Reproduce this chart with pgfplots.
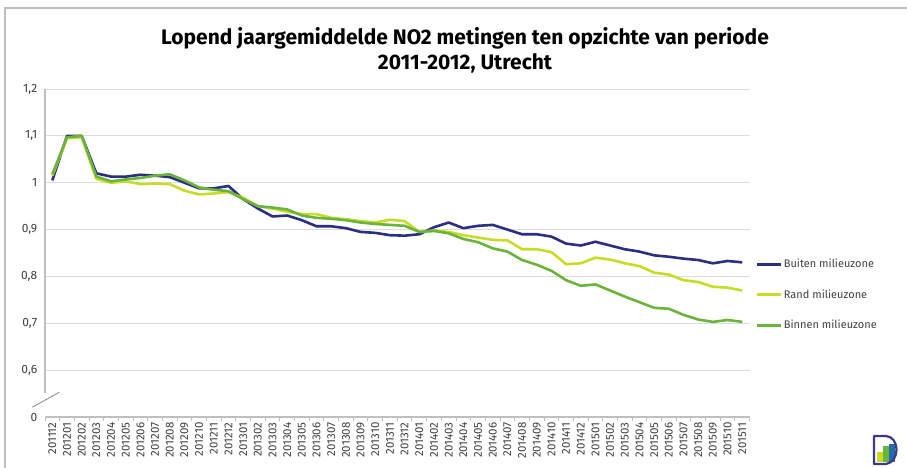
\documentclass[border=0pt]{standalone}
\usepackage{fontspec}
\setmainfont{Fira Sans}
\usepackage{pgfplots}
\usepackage{pgfplotstable}
\pgfplotsset{compat=1.18}

\definecolor{buiten}{HTML}{2B2E83}
\definecolor{rand}{HTML}{C8DC26}
\definecolor{binnen}{HTML}{6AB43C}
\definecolor{gridc}{HTML}{DDDDDD}
\definecolor{axc}{HTML}{BFBFBF}
\definecolor{txt}{HTML}{404040}
\definecolor{logo}{HTML}{3C3A8C}

% index 0 = 201112 ... 47 = 201511
\pgfplotstableread{
i buiten rand binnen
0 1.005 1.015 1.018
1 1.100 1.095 1.097
2 1.100 1.097 1.100
3 1.020 1.008 1.013
4 1.013 1.000 1.003
5 1.013 1.003 1.007
6 1.017 0.997 1.010
7 1.015 0.998 1.015
8 1.012 0.997 1.018
9 1.000 0.983 1.005
10 0.988 0.975 0.990
11 0.988 0.977 0.985
12 0.993 0.980 0.982
13 0.965 0.968 0.965
14 0.945 0.950 0.950
15 0.928 0.945 0.947
16 0.930 0.938 0.943
17 0.920 0.933 0.930
18 0.907 0.933 0.925
19 0.907 0.925 0.923
20 0.903 0.922 0.920
21 0.895 0.918 0.915
22 0.893 0.915 0.912
23 0.888 0.921 0.910
24 0.887 0.918 0.908
25 0.890 0.895 0.895
26 0.905 0.898 0.897
27 0.915 0.895 0.892
28 0.903 0.888 0.880
29 0.908 0.883 0.873
30 0.910 0.878 0.860
31 0.900 0.877 0.853
32 0.890 0.858 0.835
33 0.890 0.858 0.825
34 0.885 0.852 0.812
35 0.870 0.826 0.792
36 0.866 0.828 0.780
37 0.874 0.840 0.783
38 0.866 0.836 0.770
39 0.858 0.828 0.757
40 0.853 0.822 0.745
41 0.845 0.808 0.733
42 0.842 0.804 0.731
43 0.838 0.792 0.718
44 0.835 0.788 0.708
45 0.828 0.778 0.703
46 0.833 0.776 0.707
47 0.830 0.770 0.703
}\no

\begin{document}
\begin{tikzpicture}[x=1pt,y=1pt]
\useasboundingbox (0,0) rectangle (907,-468);
\fill[white] (0,0) rectangle (907,-468);
\draw[axc, line width=1.2pt] (5,-468) -- (5,-8) -- (907,-8);
\node[font=\bfseries\fontsize{21}{25}\selectfont, align=center, text=black] at (465,-50)
  {Lopend jaargemiddelde NO2 metingen ten opzichte van periode\\2011-2012, Utrecht};
% logo
\fill[rand] (877,-462) rectangle (883,-452);
\fill[binnen] (883,-462) rectangle (889,-446);
\fill[buiten!70!cyan] (889,-462) rectangle (895,-444);
\draw[logo, line width=2.2pt, line join=round] (874,-464) -- (874,-436) -- (886,-436)
  .. controls (900,-437) and (900,-462) .. (886,-464) -- cycle;
\begin{axis}[
  at={(45pt,-417pt)}, anchor=south west,
  scale only axis, width=704.6pt, height=328pt,
  xmin=-0.5, xmax=47.5, ymin=0.5, ymax=1.2,
  clip=false,
  separate axis lines,
  axis x line*=bottom, axis y line*=left,
  x axis line style={draw=axc, line width=1.2pt},
  y axis line style={draw=none},
  tick align=outside,
  xtick={0,...,47},
  xticklabels={201112,201201,201202,201203,201204,201205,201206,201207,201208,201209,201210,201211,201212,201301,201302,201303,201304,201305,201306,201307,201308,201309,201310,201311,201312,201401,201402,201403,201404,201405,201406,201407,201408,201409,201410,201411,201412,201501,201502,201503,201504,201505,201506,201507,201508,201509,201510,201511},
  major x tick style={draw=none},
  minor xtick={-0.5,0.5,...,47.5},
  minor x tick style={draw=axc, line width=1pt},
  minor tick length=4pt,
  x tick label style={rotate=90, anchor=east, font=\fontsize{11.5}{13}\selectfont, text=txt, inner sep=1pt},
  ytick={0.6,0.7,0.8,0.9,1.0,1.1,1.2},
  yticklabels={{0,6},{0,7},{0,8},{0,9},1,{1,1},{1,2}},
  extra y ticks={0.5}, extra y tick labels={0},
  extra y tick style={grid=none},
  major y tick style={draw=none},
  y tick label style={font=\fontsize{12}{14}\selectfont, text=txt},
  ymajorgrids, grid style={draw=gridc, line width=1pt},
  /pgf/number format/assume math mode=true,
  legend style={at={(1.0035,0.494)}, anchor=north west, draw=none, fill=none,
    font=\fontsize{11}{13}\selectfont, text=txt, row sep=16.5pt, cells={anchor=west}},
  legend image code/.code={\draw[#1] (0pt,0pt) -- (24pt,0pt);},
  every axis plot/.append style={line width=2.6pt, line join=round},
]
\draw[axc, line width=1.8pt] (axis cs:-0.5,0.551) -- (axis cs:-0.5,1.2);
\draw[axc!80!black, line width=1pt] (axis cs:-1.36,0.521) -- (axis cs:0.48,0.553);
\addplot[buiten] table[x=i, y=buiten] {\no};
\addlegendentry{Buiten milieuzone}
\addplot[rand] table[x=i, y=rand] {\no};
\addlegendentry{Rand milieuzone}
\addplot[binnen] table[x=i, y=binnen] {\no};
\addlegendentry{Binnen milieuzone}
\end{axis}
\end{tikzpicture}
\end{document}
